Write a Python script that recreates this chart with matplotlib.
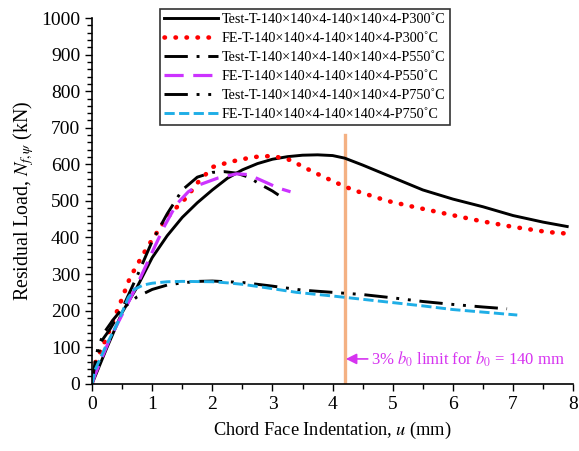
import numpy as np
import matplotlib.pyplot as plt
from matplotlib.ticker import MultipleLocator

plt.rcParams['font.family'] = ['Liberation Serif', 'DejaVu Serif']
plt.rcParams['mathtext.fontset'] = 'stix'

# load-indentation curves (u in mm, N in kN)
test300_u = [0, 0.25, 0.5, 0.75, 1.0, 1.25, 1.5, 1.75, 2.0, 2.25, 2.5, 2.75, 3.0, 3.25, 3.5, 3.75, 4.0, 4.2, 4.5, 5.0, 5.5, 6.0, 6.5, 7.0, 7.5, 7.9]
test300_n = [0, 100, 195, 265, 345, 405, 455, 495, 530, 562, 585, 602, 614, 621, 625, 626, 624, 617, 598, 564, 530, 505, 484, 460, 442, 430]

fe300_u = [0, 0.02, 0.25, 0.47, 0.63, 0.77, 0.92, 1.16, 1.33, 1.58, 1.75, 2.01, 2.3, 2.68, 3.0, 3.29, 3.68, 4.07, 4.34, 4.91, 5.34, 5.91, 6.46, 7.0, 7.57, 7.95]
fe300_n = [0, 44, 130, 221, 290, 331, 374, 434, 470, 511, 549, 593, 607, 620, 623, 612, 579, 549, 530, 500, 484, 464, 445, 429, 415, 410]

test550_u = [0, 0.08, 0.15, 0.3, 0.5, 0.75, 1.0, 1.25, 1.5, 1.75, 2.0, 2.2, 2.4, 2.6, 2.8, 3.0, 3.1]
test550_n = [0, 60, 115, 150, 205, 295, 390, 465, 530, 565, 578, 580, 576, 565, 545, 527, 516]

fe550_u = [0, 0.05, 0.3, 0.55, 0.77, 1.0, 1.2, 1.4, 1.6, 1.8, 2.1, 2.4, 2.6, 2.9, 3.1, 3.3]
fe550_n = [0, 25, 125, 205, 278, 360, 430, 490, 525, 545, 563, 574, 572, 550, 535, 525]

test750_u = [0, 0.05, 0.1, 0.2, 0.35, 0.5, 0.75, 1.0, 1.25, 1.5, 1.75, 2.0, 2.5, 3.0, 3.5, 4.0, 4.5, 5.0, 5.5, 6.0, 6.5, 6.9]
test750_n = [0, 60, 100, 140, 175, 205, 238, 258, 270, 276, 280, 281, 277, 267, 256, 250, 244, 235, 225, 217, 210, 205]

fe750_u = [0, 0.05, 0.22, 0.43, 0.6, 0.7, 0.85, 1.0, 1.25, 1.5, 2.0, 2.25, 2.5, 2.8, 3.0, 3.4, 4.0, 4.5, 5.0, 5.5, 6.0, 6.5, 7.07]
fe750_n = [0, 38, 100, 168, 235, 258, 270, 275, 279, 280, 279, 276, 272, 265, 260, 250, 240, 231, 222, 213, 203, 196, 188]

labels = [
    'Test-T-140×140×4-140×140×4-P300˚C',
    'FE-T-140×140×4-140×140×4-P300˚C',
    'Test-T-140×140×4-140×140×4-P550˚C',
    'FE-T-140×140×4-140×140×4-P550˚C',
    'Test-T-140×140×4-140×140×4-P750˚C',
    'FE-T-140×140×4-140×140×4-P750˚C',
]

limit_u = 0.03 * 140  # 3% of b0

fig = plt.figure(figsize=(5.79, 4.51), dpi=100)
ax = fig.add_axes([0.159, 0.149, 0.831, 0.811])

ax.plot(test300_u, test300_n, color='black', lw=2.1, label=labels[0])
ax.plot(fe300_u, fe300_n, color='#FF0000', lw=3.3, linestyle=(0, (0.1, 2.3)),
        dash_capstyle='round', label=labels[1])
ax.plot(test550_u, test550_n, color='black', lw=2.1, linestyle=(0, (8, 3, 1, 3)), label=labels[2])
ax.plot(fe550_u, fe550_n, color='#CC33FF', lw=2.3, linestyle=(0, (6, 3)), label=labels[3])
ax.plot(test750_u, test750_n, color='black', lw=2.1, linestyle=(0, (8, 3, 1, 3, 1, 3)), label=labels[4])
ax.plot(fe750_u, fe750_n, color='#1FAEE6', lw=2.1, linestyle=(0, (3.5, 1.5)), label=labels[5])

ax.plot([limit_u, limit_u], [0, 680], color='#F4B183', lw=2.4, zorder=1)
ax.annotate('3% $b_0$ limit for $b_0$ = 140 mm', xy=(limit_u + 0.02, 68), xytext=(4.63, 68),
            color='#D633F0', fontsize=12, va='center',
            arrowprops=dict(arrowstyle='-|>', color='#D633F0', lw=1.2, mutation_scale=16,
                            shrinkA=0, shrinkB=0))

ax.set_xlim(0, 8)
ax.set_ylim(0, 1000)
ax.xaxis.set_major_locator(MultipleLocator(1))
ax.xaxis.set_minor_locator(MultipleLocator(0.5))
ax.yaxis.set_major_locator(MultipleLocator(100))
ax.yaxis.set_minor_locator(MultipleLocator(20))
ax.tick_params(which='both', direction='out', width=1.0, labelsize=14)
ax.tick_params(which='major', length=5)
ax.tick_params(which='minor', length=3.5)
ax.spines['top'].set_visible(False)
ax.spines['right'].set_visible(False)
ax.spines['left'].set_linewidth(1.2)
ax.spines['bottom'].set_linewidth(1.2)

ax.set_xlabel('Chord Face Indentation, $u$ (mm)', fontsize=13.2, labelpad=5)
ax.set_ylabel('Residual Load, $N_{f,\\psi}$ (kN)', fontsize=14.3, labelpad=4)

leg = ax.legend(loc='upper left', bbox_to_anchor=(0.141, 1.025), fontsize=10.2,
                frameon=True, fancybox=False, edgecolor='black', handlelength=3.8,
                borderpad=0.3, labelspacing=0.42, handletextpad=0.25, borderaxespad=0)
leg.get_frame().set_linewidth(1.2)

fig.savefig('out.png', dpi=100)
